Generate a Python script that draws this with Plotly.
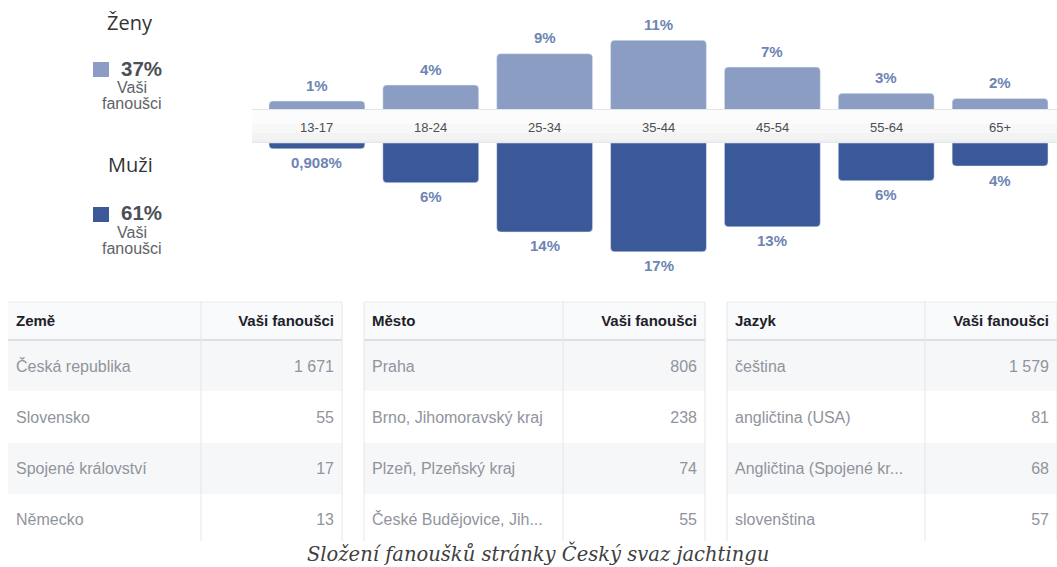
import plotly.graph_objects as go

W, H = 1057, 567

# ---------------- data ----------------
age_groups = ["13-17", "18-24", "25-34", "35-44", "45-54", "55-64", "65+"]
women_values = [1.4, 3.9, 8.8, 10.9, 6.7, 2.6, 1.8]
women_labels = ["1%", "4%", "9%", "11%", "7%", "3%", "2%"]
men_values = [0.908, 6.2, 13.9, 17.0, 13.1, 5.9, 3.6]
men_labels = ["0,908%", "6%", "14%", "17%", "13%", "6%", "4%"]

women_title = "Ženy"
women_total = "37%"
men_title = "Muži"
men_total = "61%"
fans_lines = ["Vaši", "fanoušci"]

country_header = ["Země", "Vaši fanoušci"]
countries = ["Česká republika", "Slovensko", "Spojené království", "Německo"]
country_fans = ["1 671", "55", "17", "13"]

city_header = ["Město", "Vaši fanoušci"]
cities = ["Praha", "Brno, Jihomoravský kraj", "Plzeň, Plzeňský kraj", "České Budějovice, Jih..."]
city_fans = ["806", "238", "74", "55"]

lang_header = ["Jazyk", "Vaši fanoušci"]
languages = ["čeština", "angličtina (USA)", "Angličtina (Spojené kr...", "slovenština"]
lang_fans = ["1 579", "81", "68", "57"]

caption = "Složení fanoušků stránky Český svaz jachtingu"

# ---------------- style ----------------
LIGHT = "#8b9dc3"
DARK = "#3b5998"
LABEL = "#6d84b4"
SANS = "Liberation Sans, Arial, sans-serif"
SCALE = 6.4  # px per percent


def px(x):
    return x / W


def py(y):
    return 1 - y / H


fig = go.Figure()

fig.add_trace(go.Bar(x=age_groups, y=women_values, marker_color=LIGHT,
                     xaxis="x", yaxis="y", hoverinfo="skip", showlegend=False))
fig.add_trace(go.Bar(x=age_groups, y=men_values, marker_color=DARK,
                     xaxis="x2", yaxis="y2", hoverinfo="skip", showlegend=False))

annotations = []
for g, v, t in zip(age_groups, women_values, women_labels):
    annotations.append(dict(x=g, y=v, xref="x", yref="y", text=f"<b>{t}</b>",
                            showarrow=False, xanchor="center", yanchor="middle", yshift=16,
                            font=dict(family=SANS, size=15, color=LABEL)))
for g, v, t in zip(age_groups, men_values, men_labels):
    annotations.append(dict(x=g, y=v, xref="x2", yref="y2", text=f"<b>{t}</b>",
                            showarrow=False, xanchor="center", yanchor="middle", yshift=-14,
                            font=dict(family=SANS, size=15, color=LABEL)))
for g in age_groups:
    annotations.append(dict(x=g, y=py(127), xref="x", yref="paper", text=g,
                            showarrow=False, xanchor="center", yanchor="middle",
                            font=dict(family=SANS, size=13, color="#4b4f56")))


def ptext(x, y, text, font, xanchor="center"):
    return dict(x=px(x), y=py(y), xref="paper", yref="paper", text=text,
                showarrow=False, xanchor=xanchor, yanchor="middle", font=font)


title_font = dict(family="Open Sans, sans-serif", size=20, color="#333333")
total_font = dict(family=SANS, size=20.5, color="#4b4f56")
fans_font = dict(family=SANS, size=16, color="#5f6368")

annotations += [
    ptext(130, 22, women_title, title_font),
    ptext(119, 68, f"<b>{women_total}</b>", total_font, xanchor="left"),
    ptext(132, 87, fans_lines[0], fans_font),
    ptext(132, 103, fans_lines[1], fans_font),
    ptext(130, 165, men_title, title_font),
    ptext(119, 212, f"<b>{men_total}</b>", total_font, xanchor="left"),
    ptext(132, 233, fans_lines[0], fans_font),
    ptext(132, 249, fans_lines[1], fans_font),
    ptext(538, 553, f"<i>{caption}</i>",
          dict(family="DejaVu Serif, serif", size=19.5, color="#404040")),
]

shapes = []
# legend squares
shapes.append(dict(type="rect", xref="paper", yref="paper", x0=px(93), x1=px(109),
                   y0=py(77), y1=py(62), fillcolor=LIGHT, line=dict(width=0)))
shapes.append(dict(type="rect", xref="paper", yref="paper", x0=px(93), x1=px(109),
                   y0=py(222), y1=py(207), fillcolor=DARK, line=dict(width=0)))

# centre strip with a soft gradient
bands = [(109, 110, "#e4e5e8"), (110, 124, "#fcfcfc"), (124, 133, "#f8f8f9"),
         (133, 140, "#f3f3f4"), (140, 142, "#eeeff0"), (142, 143, "#e6e7ea")]
for a, b, c in bands:
    shapes.append(dict(type="rect", xref="paper", yref="paper", x0=px(252), x1=1,
                       y0=py(b), y1=py(a), fillcolor=c, line=dict(width=0), layer="above"))

# tables
tables = [
    (8, 201, 342, country_header, countries, country_fans),
    (364, 563, 705, city_header, cities, city_fans),
    (727, 925, 1057, lang_header, languages, lang_fans),
]
row_tops = [340, 392, 443, 494]
row_fill = ["#f6f7f9", "#ffffff", "#f6f7f9", "#ffffff"]
CLEAR = "rgba(0,0,0,0)"
for x0, xd, x1, hdr, names, vals in tables:
    # header and striped row backgrounds
    shapes.append(dict(type="rect", xref="paper", yref="paper", x0=px(x0), x1=px(x1),
                       y0=py(340), y1=py(302), fillcolor="#f9fafb", line=dict(width=0),
                       layer="below"))
    for top, col in zip(row_tops, row_fill):
        bottom = min(top + 51, 541)
        shapes.append(dict(type="rect", xref="paper", yref="paper", x0=px(x0), x1=px(x1),
                           y0=py(bottom), y1=py(top), fillcolor=col, line=dict(width=0),
                           layer="below"))
    fig.add_trace(go.Table(
        domain=dict(x=[px(x0), px(x1)], y=[py(541), py(304)]),
        columnwidth=[xd - x0, x1 - xd],
        header=dict(values=[f"<b>{h}</b>" for h in hdr], align=["left", "right"],
                    fill_color=CLEAR, height=47.5, line=dict(width=0),
                    font=dict(family=SANS, size=15, color="#1d2129")),
        cells=dict(values=[names, vals], align=["left", "right"],
                   fill_color=CLEAR, height=51, line=dict(width=0),
                   font=dict(family=SANS, size=16, color="#90949c")),
    ))
    shapes.append(dict(type="line", xref="paper", yref="paper", x0=px(x0), x1=px(x1),
                       y0=py(302), y1=py(302), line=dict(color="#e9ebee", width=1), layer="above"))
    shapes.append(dict(type="line", xref="paper", yref="paper", x0=px(x0), x1=px(x1),
                       y0=py(340), y1=py(340), line=dict(color="#dddfe2", width=2), layer="above"))
    for xv in (xd, x1):
        shapes.append(dict(type="line", xref="paper", yref="paper", x0=px(xv), x1=px(xv),
                           y0=py(302), y1=py(541), line=dict(color="#e5e6e9", width=1), layer="above"))
for xv in (364, 727):
    shapes.append(dict(type="line", xref="paper", yref="paper", x0=px(xv), x1=px(xv),
                       y0=py(302), y1=py(541), line=dict(color="#e5e6e9", width=1), layer="above"))

fig.update_layout(
    width=W, height=H,
    margin=dict(l=0, r=0, t=0, b=0),
    paper_bgcolor="white", plot_bgcolor="rgba(0,0,0,0)",
    bargap=0.158, barcornerradius=4,
    xaxis=dict(domain=[px(260), 1], range=[-0.5, 6.5], visible=False, anchor="y"),
    yaxis=dict(domain=[py(110), 1], range=[0, 110 / SCALE], visible=False, anchor="x"),
    xaxis2=dict(domain=[px(260), 1], range=[-0.5, 6.5], visible=False, anchor="y2", matches="x"),
    yaxis2=dict(domain=[py(290), py(143)], range=[147 / SCALE, 0], visible=False, anchor="x2"),
    annotations=annotations,
    shapes=shapes,
)

fig.write_html("out.html")
